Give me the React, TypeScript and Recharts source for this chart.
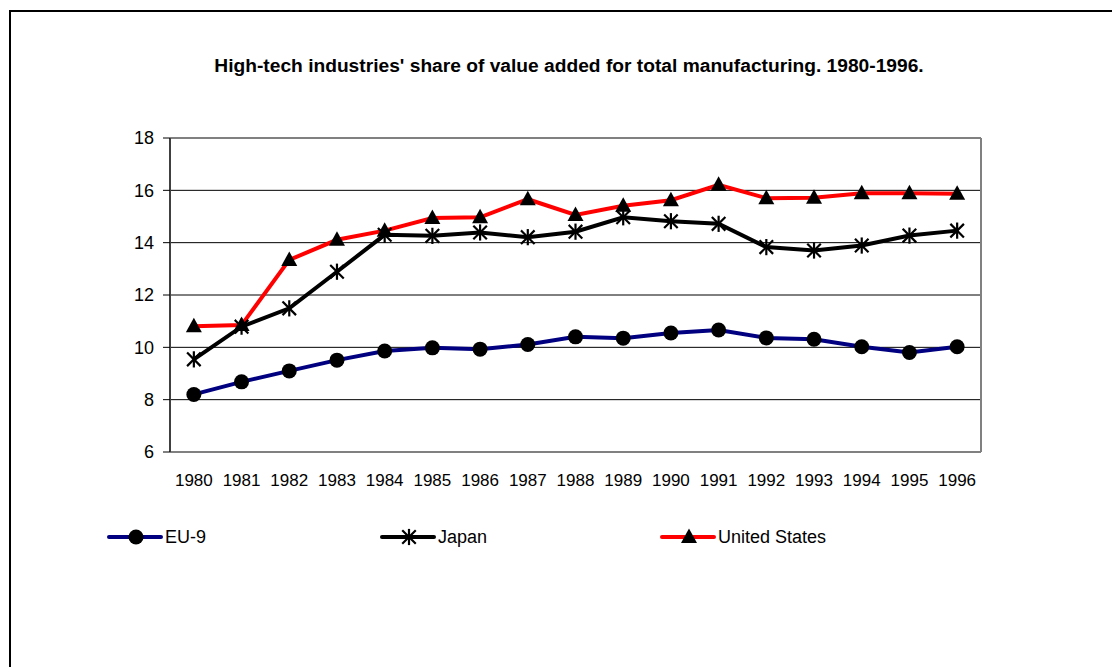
import React from "react";
import {
  LineChart,
  Line,
  XAxis,
  YAxis,
  CartesianGrid,
  ReferenceLine,
  Legend,
} from "recharts";

const years = [1980, 1981, 1982, 1983, 1984, 1985, 1986, 1987, 1988, 1989, 1990, 1991, 1992, 1993, 1994, 1995, 1996];
const eu9 = [8.2, 8.68, 9.1, 9.51, 9.86, 9.98, 9.93, 10.11, 10.4, 10.35, 10.55, 10.66, 10.36, 10.31, 10.02, 9.8, 10.02];
const japan = [9.54, 10.79, 11.49, 12.89, 14.3, 14.26, 14.39, 14.21, 14.42, 14.97, 14.82, 14.72, 13.83, 13.7, 13.89, 14.27, 14.46];
const unitedStates = [10.81, 10.85, 13.34, 14.11, 14.46, 14.94, 14.97, 15.66, 15.06, 15.41, 15.62, 16.21, 15.7, 15.72, 15.89, 15.89, 15.87];
const yTicks = [6, 8, 10, 12, 14, 16, 18];
const title = "High-tech industries' share of value added for total manufacturing. 1980-1996.";
const seriesNames = ["EU-9", "Japan", "United States"];

const data = years.map((year, i) => ({
  year,
  eu: eu9[i],
  japan: japan[i],
  us: unitedStates[i],
}));

const boundaryTicks = [...years.map((y) => y - 0.5), years[years.length - 1] + 0.5];
const FONT = "'Liberation Sans', Arial, sans-serif";

const Circle = ({ cx, cy }: { cx: number; cy: number }) => <circle cx={cx} cy={cy} r={7.5} fill="#000" />;
const Star = ({ cx, cy }: { cx: number; cy: number }) => (
  <g stroke="#000" strokeWidth={2.2} strokeLinecap="square">
    <line x1={cx - 6} y1={cy - 6} x2={cx + 6} y2={cy + 6} />
    <line x1={cx - 6} y1={cy + 6} x2={cx + 6} y2={cy - 6} />
    <line x1={cx} y1={cy - 7} x2={cx} y2={cy + 7} />
  </g>
);
const Tri = ({ cx, cy }: { cx: number; cy: number }) => (
  <polygon points={`${cx},${cy - 8.5} ${cx - 8},${cy + 6} ${cx + 8},${cy + 6}`} fill="#000" />
);

const mkDot = (Comp: any, prefix: string) => (props: any) => {
  const { cx, cy, index } = props;
  if (cx == null || cy == null) return <g key={`${prefix}-${index}`} />;
  return (
    <g key={`${prefix}-${index}`}>
      <Comp cx={cx} cy={cy} />
    </g>
  );
};

const legendItems = [
  { name: seriesNames[0], color: "#000080", Marker: Circle, width: 273 },
  { name: seriesNames[1], color: "#000000", Marker: Star, width: 280 },
  { name: seriesNames[2], color: "#FF0000", Marker: Tri, width: 280 },
];

const LegendContent = () => (
  <div style={{ display: "flex", fontFamily: FONT, fontSize: 18, color: "#000" }}>
    {legendItems.map((it) => (
      <div key={it.name} style={{ width: it.width, display: "flex", alignItems: "center" }}>
        <svg width={58} height={24}>
          <line x1={2} y1={12} x2={54} y2={12} stroke={it.color} strokeWidth={4} strokeLinecap="round" />
          <it.Marker cx={29} cy={12} />
        </svg>
        <span style={{ marginLeft: 0 }}>{it.name}</span>
      </div>
    ))}
  </div>
);

const YTick = (props: any) => {
  const { x, y, payload } = props;
  return (
    <text x={x} y={y} dy="0.35em" textAnchor="end" fontFamily={FONT} fontSize={18} fill="#000">
      {payload.value}
    </text>
  );
};

const XTick = (props: any) => {
  const { x, y, payload } = props;
  return (
    <text x={x} y={y} dy="0.71em" textAnchor="middle" fontFamily={FONT} fontSize={17} fill="#000">
      {payload.value}
    </text>
  );
};

export default function App() {
  return (
    <div style={{ position: "absolute", left: 0, top: 0, width: 1112, height: 667, overflow: "hidden", background: "#fff" }}>
      <div
        style={{
          position: "absolute",
          left: 9,
          top: 10,
          width: 1200,
          height: 800,
          borderTop: "2.5px solid #000",
          borderLeft: "2.5px solid #000",
        }}
      />
      <div
        style={{
          position: "absolute",
          left: 569,
          top: 55,
          transform: "translateX(-50%)",
          whiteSpace: "nowrap",
          fontFamily: FONT,
          fontWeight: "bold",
          fontSize: 19.2,
          color: "#000",
        }}
      >
        {title}
      </div>
      <div style={{ position: "absolute", left: 0, top: 0 }}>
        <LineChart width={1112} height={667} data={data} margin={{ top: 138, right: 131, bottom: 184, left: 0 }}>
          <CartesianGrid vertical={false} stroke="#000" strokeWidth={1} yAxisId="y" xAxisId="b" />
          <XAxis
            xAxisId="a"
            type="number"
            dataKey="year"
            domain={[years[0] - 0.5, years[years.length - 1] + 0.5]}
            ticks={boundaryTicks}
            interval={0}
            tick={false}
            tickSize={7}
            height={1}
            axisLine={{ stroke: "#808080", strokeWidth: 2 }}
            tickLine={{ stroke: "#000", strokeWidth: 1 }}
          />
          <XAxis
            xAxisId="b"
            type="number"
            dataKey="year"
            domain={[years[0] - 0.5, years[years.length - 1] + 0.5]}
            ticks={years}
            interval={0}
            height={30}
            axisLine={false}
            tickLine={false}
            tickSize={0}
            tickMargin={21}
            tick={<XTick />}
          />
          <YAxis
            yAxisId="y"
            width={170}
            domain={[6, 18]}
            ticks={yTicks}
            interval={0}
            tickSize={7}
            tickMargin={9}
            axisLine={{ stroke: "#404040", strokeWidth: 2 }}
            tickLine={{ stroke: "#000", strokeWidth: 1 }}
            tick={<YTick />}
          />
          <ReferenceLine yAxisId="y" xAxisId="b" y={18} stroke="#808080" strokeWidth={2} />
          <ReferenceLine yAxisId="y" xAxisId="b" x={years[years.length - 1] + 0.5} stroke="#808080" strokeWidth={2} />
          <Line
            xAxisId="b"
            yAxisId="y"
            dataKey="eu"
            name={seriesNames[0]}
            stroke="#000080"
            strokeWidth={4}
            dot={mkDot(Circle, "eu")}
            isAnimationActive={false}
          />
          <Line
            xAxisId="b"
            yAxisId="y"
            dataKey="japan"
            name={seriesNames[1]}
            stroke="#000"
            strokeWidth={4}
            dot={mkDot(Star, "jp")}
            isAnimationActive={false}
          />
          <Line
            xAxisId="b"
            yAxisId="y"
            dataKey="us"
            name={seriesNames[2]}
            stroke="#FF0000"
            strokeWidth={4}
            dot={mkDot(Tri, "us")}
            isAnimationActive={false}
          />
          <Legend
            verticalAlign="middle"
            content={<LegendContent />}
            wrapperStyle={{ position: "absolute", left: 107, top: 525, width: 900 }}
          />
        </LineChart>
      </div>
    </div>
  );
}
